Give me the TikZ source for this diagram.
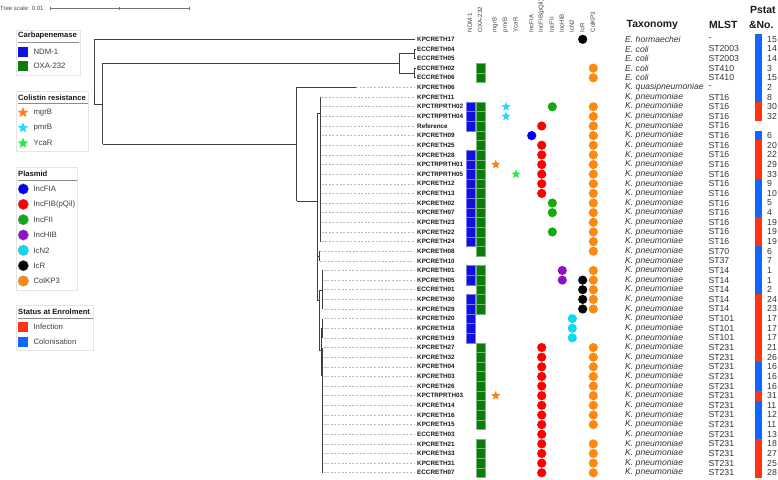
\documentclass[tikz,border=0pt]{standalone}
\usepackage{fontspec}
\setmainfont{Liberation Sans}
\usetikzlibrary{shapes.geometric}
\definecolor{ndm}{HTML}{1010E0}
\definecolor{oxa}{HTML}{0B7B0B}
\definecolor{infc}{HTML}{FF3311}
\definecolor{colc}{HTML}{1166FF}
\definecolor{cfia}{HTML}{0000EE}
\definecolor{cfib}{HTML}{FF0000}
\definecolor{cfii}{HTML}{12AA12}
\definecolor{chib}{HTML}{9010C8}
\definecolor{cn2}{HTML}{10D8F0}
\definecolor{cr}{HTML}{000000}
\definecolor{ckp}{HTML}{FF8811}
\definecolor{smgr}{HTML}{FF7F10}
\definecolor{spmr}{HTML}{22D8FF}
\definecolor{sycar}{HTML}{22EE44}
\begin{document}
\begin{tikzpicture}[x=1pt,y=-1pt,
 treeline/.style={draw=black!75, line width=0.8pt},
 leader/.style={draw=black!28, line width=0.5pt, dash pattern=on 2pt off 1.6pt},
 lbl/.style={anchor=west, inner sep=0pt, font=\bfseries\fontsize{6.3}{7}\selectfont, text=black!90},
 taxtxt/.style={anchor=west, inner sep=0pt, font=\itshape\fontsize{8.6}{9}\selectfont, text=black!80},
 mlsttxt/.style={anchor=west, inner sep=0pt, font=\fontsize{8.7}{9}\selectfont, text=black!80},
 headtxt/.style={anchor=west, inner sep=0pt, font=\bfseries\fontsize{10.4}{11}\selectfont, text=black!90},
 circmk/.style={circle, inner sep=0pt, minimum size=9.2pt},
 starmk/.style={star, star points=5, star point ratio=2.3, inner sep=0pt, minimum size=9.5pt},
 colhead/.style={rotate=90, anchor=west, inner sep=0pt, font=\fontsize{6.1}{6.5}\selectfont, text=black!75},
 legbox/.style={draw=black!10, fill=white, line width=0.4pt},
 legtitle/.style={anchor=west, inner sep=0pt, font=\bfseries\fontsize{7.6}{8}\selectfont, text=black!90},
 legtext/.style={anchor=west, inner sep=0pt, font=\fontsize{7.8}{8}\selectfont, text=black!75},
 legrule/.style={draw=black!45, line width=0.8pt},
]
\useasboundingbox (0,0) rectangle (778,479);

% tree scale
\node[anchor=west, inner sep=0pt, font=\fontsize{6}{6}\selectfont, text=black!70] (tscale) at (0,8.3) {Tree scale: 0.01};
\draw[black!55, line width=0.5pt] (50,8.3) -- (189,8.3);
\draw[black!55, line width=0.5pt] (50,6.8) -- (50,9.8) (119.3,6.8) -- (119.3,9.8) (189,6.8) -- (189,9.8);

% ---------- legends ----------
\draw[legbox] (16.5,30) rectangle (80,75.5);
\node[legtitle] (lt1) at (18,36) {Carbapenemase};
\draw[legrule] (17.5,42.3) -- (79,42.3);
\fill[ndm] (17.7,46.7) rectangle (28.3,56.7);
\node[legtext] (l11) at (33.3,51.7) {NDM-1};
\fill[oxa] (17.7,61.3) rectangle (28.3,71.3);
\node[legtext] (l12) at (33.3,66.3) {OXA-232};

\draw[legbox] (16.5,91.5) rectangle (88.5,151.5);
\node[legtitle] (lt2) at (18,97.3) {Colistin resistance};
\draw[legrule] (17.5,103.3) -- (87.5,103.3);
\node[starmk, fill=smgr, minimum size=11pt] (ls1) at (23,112.6) {};
\node[legtext] (l21) at (33.3,112.3) {mgrB};
\node[starmk, fill=spmr, minimum size=11pt] (ls2) at (23,127.9) {};
\node[legtext] (l22) at (33.3,127.6) {pmrB};
\node[starmk, fill=sycar, minimum size=11pt] (ls3) at (23,143.3) {};
\node[legtext] (l23) at (33.3,143) {YcaR};

\draw[legbox] (16.5,167.5) rectangle (77.5,290);
\node[legtitle] (lt3) at (18,173.3) {Plasmid};
\draw[legrule] (17.5,180) -- (76.5,180);
\foreach \k/\c/\t in {0/cfia/IncFIA,1/cfib/IncFIB(pQil),2/cfii/IncFII,3/chib/IncHIB,4/cn2/IcN2,5/cr/IcR,6/ckp/ColKP3}{
  \node[circmk, fill=\c, draw=black!40, line width=0.3pt, minimum size=10.6pt] (lc\k) at (23.3,{189+\k*15.33}) {};
  \node[legtext] (lp\k) at (33.3,{189+\k*15.33}) {\t};
}

\draw[legbox] (16.5,305.5) rectangle (93.5,350.5);
\node[legtitle] (lt4) at (18,311.7) {Status at Enrolment};
\draw[legrule] (17.5,318.3) -- (92.5,318.3);
\fill[infc] (17.7,321.5) rectangle (28.3,332);
\node[legtext] (l41) at (33.3,326.7) {Infection};
\fill[colc] (17.7,336.8) rectangle (28.3,347.3);
\node[legtext] (l42) at (33.3,342) {Colonisation};

% ---------- tree ----------
\draw[treeline] (94.3,39.3) -- (415,39.3);
\draw[treeline] (94.3,39.3) -- (94.3,104) -- (102.7,104);
\draw[treeline] (102.7,63.3) -- (102.7,144);
\draw[treeline] (102.7,63.3) -- (399.3,63.3);
\draw[treeline] (399.3,53.75) -- (399.3,73.0);
\draw[treeline] (399.3,53.75) -- (414.5,53.75);
\draw[treeline] (414.5,48.93) -- (414.5,58.56);
\draw[treeline] (414.5,48.93) -- (416,48.93) (414.5,58.56) -- (416,58.56);
\draw[treeline] (399.3,73.0) -- (414.5,73.0);
\draw[treeline] (414.5,68.2) -- (414.5,77.83);
\draw[treeline] (414.5,68.2) -- (416,68.2) (414.5,77.83) -- (416,77.83);
\draw[treeline] (102.7,144) -- (296.7,144);
\draw[treeline] (296.7,87.46) -- (296.7,201.3);
\draw[treeline] (296.7,87.46) -- (356,87.46);
\draw[leader] (356,87.46) -- (414,87.46);
\draw[treeline] (296.7,201.3) -- (317.3,201.3);
\draw[treeline] (317.3,113.3) -- (317.3,300);
\draw[treeline] (317.3,113.3) -- (320.7,113.3);
\draw[treeline] (320.7,97.09) -- (320.7,241.57);
\draw[treeline] (317.3,256) -- (319.5,256);
\draw[treeline] (319.5,251.2) -- (319.5,260.84);
\draw[treeline] (317.3,300) -- (319.2,300);
\draw[treeline] (319.2,290) -- (319.2,350);
\draw[treeline] (319.2,290) -- (322.3,290);
\draw[treeline] (322.3,270.47) -- (322.3,309);
\draw[treeline] (319.2,350) -- (320.9,350);
\draw[treeline] (320.9,328) -- (320.9,375);
\draw[treeline] (320.9,328) -- (322.7,328);
\draw[treeline] (322.7,318.63) -- (322.7,337.89);
\draw[treeline] (320.9,375) -- (322.7,375);
\draw[treeline] (322.7,347.52) -- (322.7,472.74);
\foreach \i in {7,...,22}{\draw[leader] (321.6,{39.3+(\i-1)*9.632}) -- (414,{39.3+(\i-1)*9.632});}
\foreach \i in {23,24}{\draw[leader] (320.4,{39.3+(\i-1)*9.632}) -- (414,{39.3+(\i-1)*9.632});}
\foreach \i in {25,...,46}{\draw[leader] (323.6,{39.3+(\i-1)*9.632}) -- (414,{39.3+(\i-1)*9.632});}

% ---------- column headers ----------
\foreach \x/\t [count=\k] in {469.8/NDM-1,480/OXA-232,495.2/mgrB,505.5/pmrB,515.5/YcaR,531.2/IncFIA,541.2/IncFIB(pQil),551.8/IncFII,561.8/IncHIB,571.8/IcN2,582.2/IcR,592.8/ColKP3}{
  \node[colhead] (ch\k) at (\x,32.5) {\t};
}

% ---------- status bar ----------
\foreach \i in {1,...,7,11,16,17,18,19,23,24,25,26,27,35,36,37,39,40,41,42}{
  \fill[colc] (755,{39.3+(\i-1)*9.632-4.9}) rectangle (761.7,{39.3+(\i-1)*9.632+4.9});
}
\foreach \i in {8,9,12,13,14,15,20,21,22,28,29,30,31,32,33,34,38,43,44,45,46}{
  \fill[infc] (755,{39.3+(\i-1)*9.632-4.9}) rectangle (761.7,{39.3+(\i-1)*9.632+4.9});
}

% ---------- carbapenemase squares ----------
\foreach \i in {8,9,10,13,14,15,16,17,18,19,20,21,22,25,26,28,29,30,31,32}{
  \path[fill=ndm, draw=ndm!55!white, line width=0.4pt] (466,{39.3+(\i-1)*9.632-4.816}) rectangle (475.2,{39.3+(\i-1)*9.632+4.816});
}
\foreach \i in {4,5,8,9,10,11,12,13,14,15,16,17,18,19,20,21,22,23,25,26,27,28,29,33,34,35,36,37,38,39,40,41,43,44,45,46}{
  \path[fill=oxa, draw=oxa!55!white, line width=0.4pt] (476.2,{39.3+(\i-1)*9.632-4.816}) rectangle (485.4,{39.3+(\i-1)*9.632+4.816});
}

% ---------- colistin stars ----------
\foreach \i in {14,38}{\node[starmk, fill=smgr] (mg\i) at (495.7,{39.3+(\i-1)*9.632}) {};}
\foreach \i in {8,9}{\node[starmk, fill=spmr] (pm\i) at (506,{39.3+(\i-1)*9.632}) {};}
\foreach \i in {15}{\node[starmk, fill=sycar] (yc\i) at (516,{39.3+(\i-1)*9.632}) {};}

% ---------- plasmid circles ----------
\foreach \i in {11}{\node[circmk, fill=cfia] (fia\i) at (531.7,{39.3+(\i-1)*9.632}) {};}
\foreach \i in {10,12,13,14,15,16,17,33,34,35,36,37,38,39,40,41,42,43,44,45,46}{\node[circmk, fill=cfib] (fib\i) at (541.7,{39.3+(\i-1)*9.632}) {};}
\foreach \i in {8,18,19,21}{\node[circmk, fill=cfii] (fii\i) at (552.3,{39.3+(\i-1)*9.632}) {};}
\foreach \i in {25,26}{\node[circmk, fill=chib] (hib\i) at (562.3,{39.3+(\i-1)*9.632}) {};}
\foreach \i in {30,31,32}{\node[circmk, fill=cn2] (cn\i) at (572.3,{39.3+(\i-1)*9.632}) {};}
\foreach \i in {1,26,27,28,29}{\node[circmk, fill=cr] (icr\i) at (582.7,{39.3+(\i-1)*9.632}) {};}
\foreach \i in {4,5,8,9,10,11,12,13,14,15,16,17,18,19,20,21,22,23,25,26,27,28,29,33,34,35,36,37,38,39,40,41,43,44,45,46}{\node[circmk, fill=ckp] (kp\i) at (593.3,{39.3+(\i-1)*9.632}) {};}

% ---------- headers ----------
\node[headtxt] (hTax) at (626.5,25) {Taxonomy};
\node[headtxt] (hMlst) at (709,25) {MLST};
\node[headtxt] (hP1) at (750,10) {Pstat};
\node[headtxt] (hP2) at (749,25) {\&No.};

% ---------- rows ----------
\foreach \i/\nm/\tx/\ml/\nu in {
1/KPCRETH17/E. hormaechei/-/15,
2/ECCRETH04/E. coli/ST2003/14,
3/ECCRETH05/E. coli/ST2003/14,
4/ECCRETH02/E. coli/ST410/3,
5/ECCRETH06/E. coli/ST410/15,
6/KPCRETH06/K. quasipneumoniae/-/2,
7/KPCRETH11/K. pneumoniae/ST16/8,
8/KPCTRPRTH02/K. pneumoniae/ST16/30,
9/KPCTRPRTH04/K. pneumoniae/ST16/32,
10/Reference/K. pneumoniae/ST16/,
11/KPCRETH09/K. pneumoniae/ST16/6,
12/KPCRETH25/K. pneumoniae/ST16/20,
13/KPCRETH28/K. pneumoniae/ST16/22,
14/KPCTRPRTH01/K. pneumoniae/ST16/29,
15/KPCTRPRTH05/K. pneumoniae/ST16/33,
16/KPCRETH12/K. pneumoniae/ST16/9,
17/KPCRETH13/K. pneumoniae/ST16/10,
18/KPCRETH02/K. pneumoniae/ST16/5,
19/KPCRETH07/K. pneumoniae/ST16/4,
20/KPCRETH23/K. pneumoniae/ST16/19,
21/KPCRETH22/K. pneumoniae/ST16/19,
22/KPCRETH24/K. pneumoniae/ST16/19,
23/KPCRETH08/K. pneumoniae/ST70/6,
24/KPCRETH10/K. pneumoniae/ST37/7,
25/KPCRETH01/K. pneumoniae/ST14/1,
26/KPCRETH05/K. pneumoniae/ST14/1,
27/ECCRETH01/K. pneumoniae/ST14/2,
28/KPCRETH30/K. pneumoniae/ST14/24,
29/KPCRETH29/K. pneumoniae/ST14/23,
30/KPCRETH20/K. pneumoniae/ST101/17,
31/KPCRETH18/K. pneumoniae/ST101/17,
32/KPCRETH19/K. pneumoniae/ST101/17,
33/KPCRETH27/K. pneumoniae/ST231/21,
34/KPCRETH32/K. pneumoniae/ST231/26,
35/KPCRETH04/K. pneumoniae/ST231/16,
36/KPCRETH03/K. pneumoniae/ST231/16,
37/KPCRETH26/K. pneumoniae/ST231/16,
38/KPCTRPRTH03/K. pneumoniae/ST231/31,
39/KPCRETH14/K. pneumoniae/ST231/11,
40/KPCRETH16/K. pneumoniae/ST231/12,
41/KPCRETH15/K. pneumoniae/ST231/11,
42/ECCRETH03/K. pneumoniae/ST231/13,
43/KPCRETH21/K. pneumoniae/ST231/18,
44/KPCRETH33/K. pneumoniae/ST231/27,
45/KPCRETH31/K. pneumoniae/ST231/25,
46/ECCRETH07/K. pneumoniae/ST231/28}{
  \pgfmathsetmacro\yy{39.3+(\i-1)*9.632}
  \node[lbl] (lab\i) at (417,\yy) {\nm};
  \node[taxtxt] (tax\i) at (625,\yy) {\tx};
  \node[mlsttxt] (ml\i) at (708.3,\yy) {\ml};
  \node[mlsttxt] (num\i) at (767,\yy) {\nu};
}
\end{tikzpicture}
\end{document}
